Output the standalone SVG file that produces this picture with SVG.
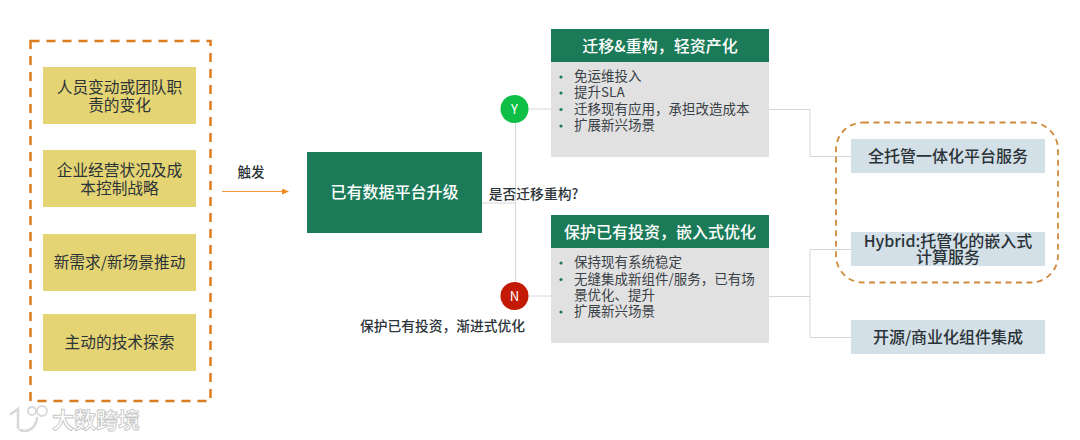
<svg xmlns="http://www.w3.org/2000/svg" width="1080" height="440" viewBox="0 0 1080 440">
<defs>
<style>
text{font-family:"Noto Sans CJK SC","Noto Sans",sans-serif;fill:#2b3338;text-anchor:middle}
.y{fill:#e5d473}.h{fill:#1b7b58}.b{fill:#e1e1e1}.s{fill:#d3e0e7}
.t15{font-size:15.700px}.t16{font-size:16px;font-weight:500}.w{fill:#fff}
.li{font-size:13.500px;text-anchor:start;fill:#3a4247}
.dot{fill:#1b7b58}
.c{fill:none;stroke:#d6d6d6;stroke-width:1}
</style>
<marker id="ah" markerWidth="7" markerHeight="6" refX="6" refY="3" orient="auto" markerUnits="userSpaceOnUse"><path d="M0 0L7 3L0 6Z" fill="#ee8c1f"/></marker>
</defs>
<rect width="1080" height="440" fill="#fff"/>
<g id="connectors">
<path class="c" d="M482 203H515.500M515.500 109V296M528 109H551M528 296H551"/>
<path class="c" d="M769 109.500H810V156.500H851M769 296.500H810M810 249.500V337.500M810 249.500H851M810 337.500H851"/>
<path d="M222 191.500H288" fill="none" stroke="#ee9a3c" stroke-width="1" marker-end="url(#ah)"/>
</g>
<g id="trigger-group"><rect x="30.500" y="41" width="180" height="360" fill="none" stroke="#dd7c1e" stroke-width="2.500" stroke-dasharray="9 7"/></g>
<g id="n1"><rect class="y" x="43" y="67" width="153" height="57"/><text class="t15" x="119.500" y="93">人员变动或团队职</text><text class="t15" x="119.500" y="111">责的变化</text></g>
<g id="n2"><rect class="y" x="43" y="150" width="153" height="57"/><text class="t15" x="119.500" y="176">企业经营状况及成</text><text class="t15" x="119.500" y="194">本控制战略</text></g>
<g id="n3"><rect class="y" x="43" y="234" width="153" height="57"/><text class="t15" x="119.500" y="268">新需求/新场景推动</text></g>
<g id="n4"><rect class="y" x="43" y="314" width="153" height="57"/><text class="t15" x="119.500" y="348">主动的技术探索</text></g>
<g id="trigger-label"><text x="251" y="177" font-size="13.500" font-weight="500">触发</text></g>
<g id="main"><rect class="h" x="307" y="152" width="175" height="81"/><text class="w" x="394.500" y="198" font-size="16" font-weight="500">已有数据平台升级</text></g>
<g id="question"><text x="533.500" y="199" font-size="13.800" font-weight="500">是否迁移重构?</text></g>
<g id="yes"><circle cx="514.500" cy="109" r="14" fill="#0fbf45"/><text class="w" x="514.500" y="114" font-size="13">Y</text></g>
<g id="no"><circle cx="514.500" cy="296" r="14" fill="#c31a05"/><text class="w" x="514.500" y="301" font-size="13">N</text></g>
<g id="no-label"><text x="442.500" y="331" font-size="13.750" font-weight="500">保护已有投资，渐进式优化</text></g>
<g id="p1"><rect class="b" x="551" y="62" width="218" height="95"/><rect class="h" x="551" y="29" width="218" height="33"/><text class="w t16" x="660" y="52">迁移&amp;重构，轻资产化</text>
<circle class="dot" cx="561" cy="77" r="1.600"/><circle class="dot" cx="561" cy="93" r="1.600"/><circle class="dot" cx="561" cy="109.500" r="1.600"/><circle class="dot" cx="561" cy="126" r="1.600"/>
<text class="li" x="574" y="81">免运维投入</text><text class="li" x="574" y="97">提升SLA</text><text class="li" x="574" y="113.500">迁移现有应用，承担改造成本</text><text class="li" x="574" y="130">扩展新兴场景</text></g>
<g id="p2"><rect class="b" x="551" y="248" width="218" height="95"/><rect class="h" x="551" y="215" width="218" height="33"/><text class="w t16" x="660" y="238">保护已有投资，嵌入式优化</text>
<circle class="dot" cx="561" cy="263" r="1.600"/><circle class="dot" cx="561" cy="279.500" r="1.600"/><circle class="dot" cx="561" cy="312" r="1.600"/>
<text class="li" x="574" y="267">保持现有系统稳定</text><text class="li" x="574" y="283.500">无缝集成新组件/服务，已有场</text><text class="li" x="574" y="300">景优化、提升</text><text class="li" x="574" y="316">扩展新兴场景</text></g>
<g id="s1"><rect class="s" x="851" y="139" width="194" height="34"/><text class="t16" x="948" y="162">全托管一体化平台服务</text></g>
<g id="s2"><rect class="s" x="851" y="232" width="194" height="34"/><text class="t16" x="948" y="247">Hybrid:托管化的嵌入式</text><text class="t16" x="948" y="263">计算服务</text></g>
<g id="s3"><rect class="s" x="851" y="320" width="194" height="34"/><text class="t16" x="948" y="343">开源/商业化组件集成</text></g>
<g id="managed-group"><rect x="836" y="122.500" width="222" height="160" rx="27" fill="none" stroke="#cf8a3c" stroke-width="1.800" stroke-dasharray="6 4.500"/></g>
<g id="watermark"><g fill="none" stroke="#d8d8d8" stroke-width="2.500" stroke-linecap="round"><path d="M11 414L18 409V428M37 418C36 428 28 433 20 430"/></g><g fill="none" stroke="#d8d8d8" stroke-width="1.800"><circle cx="32" cy="411" r="4"/><circle cx="42" cy="411" r="5"/></g>
<text x="96" y="428" font-size="22" font-weight="700" style="fill:#fff;stroke:#c8c8c8;stroke-width:.9">大数跨境</text></g>
</svg>
